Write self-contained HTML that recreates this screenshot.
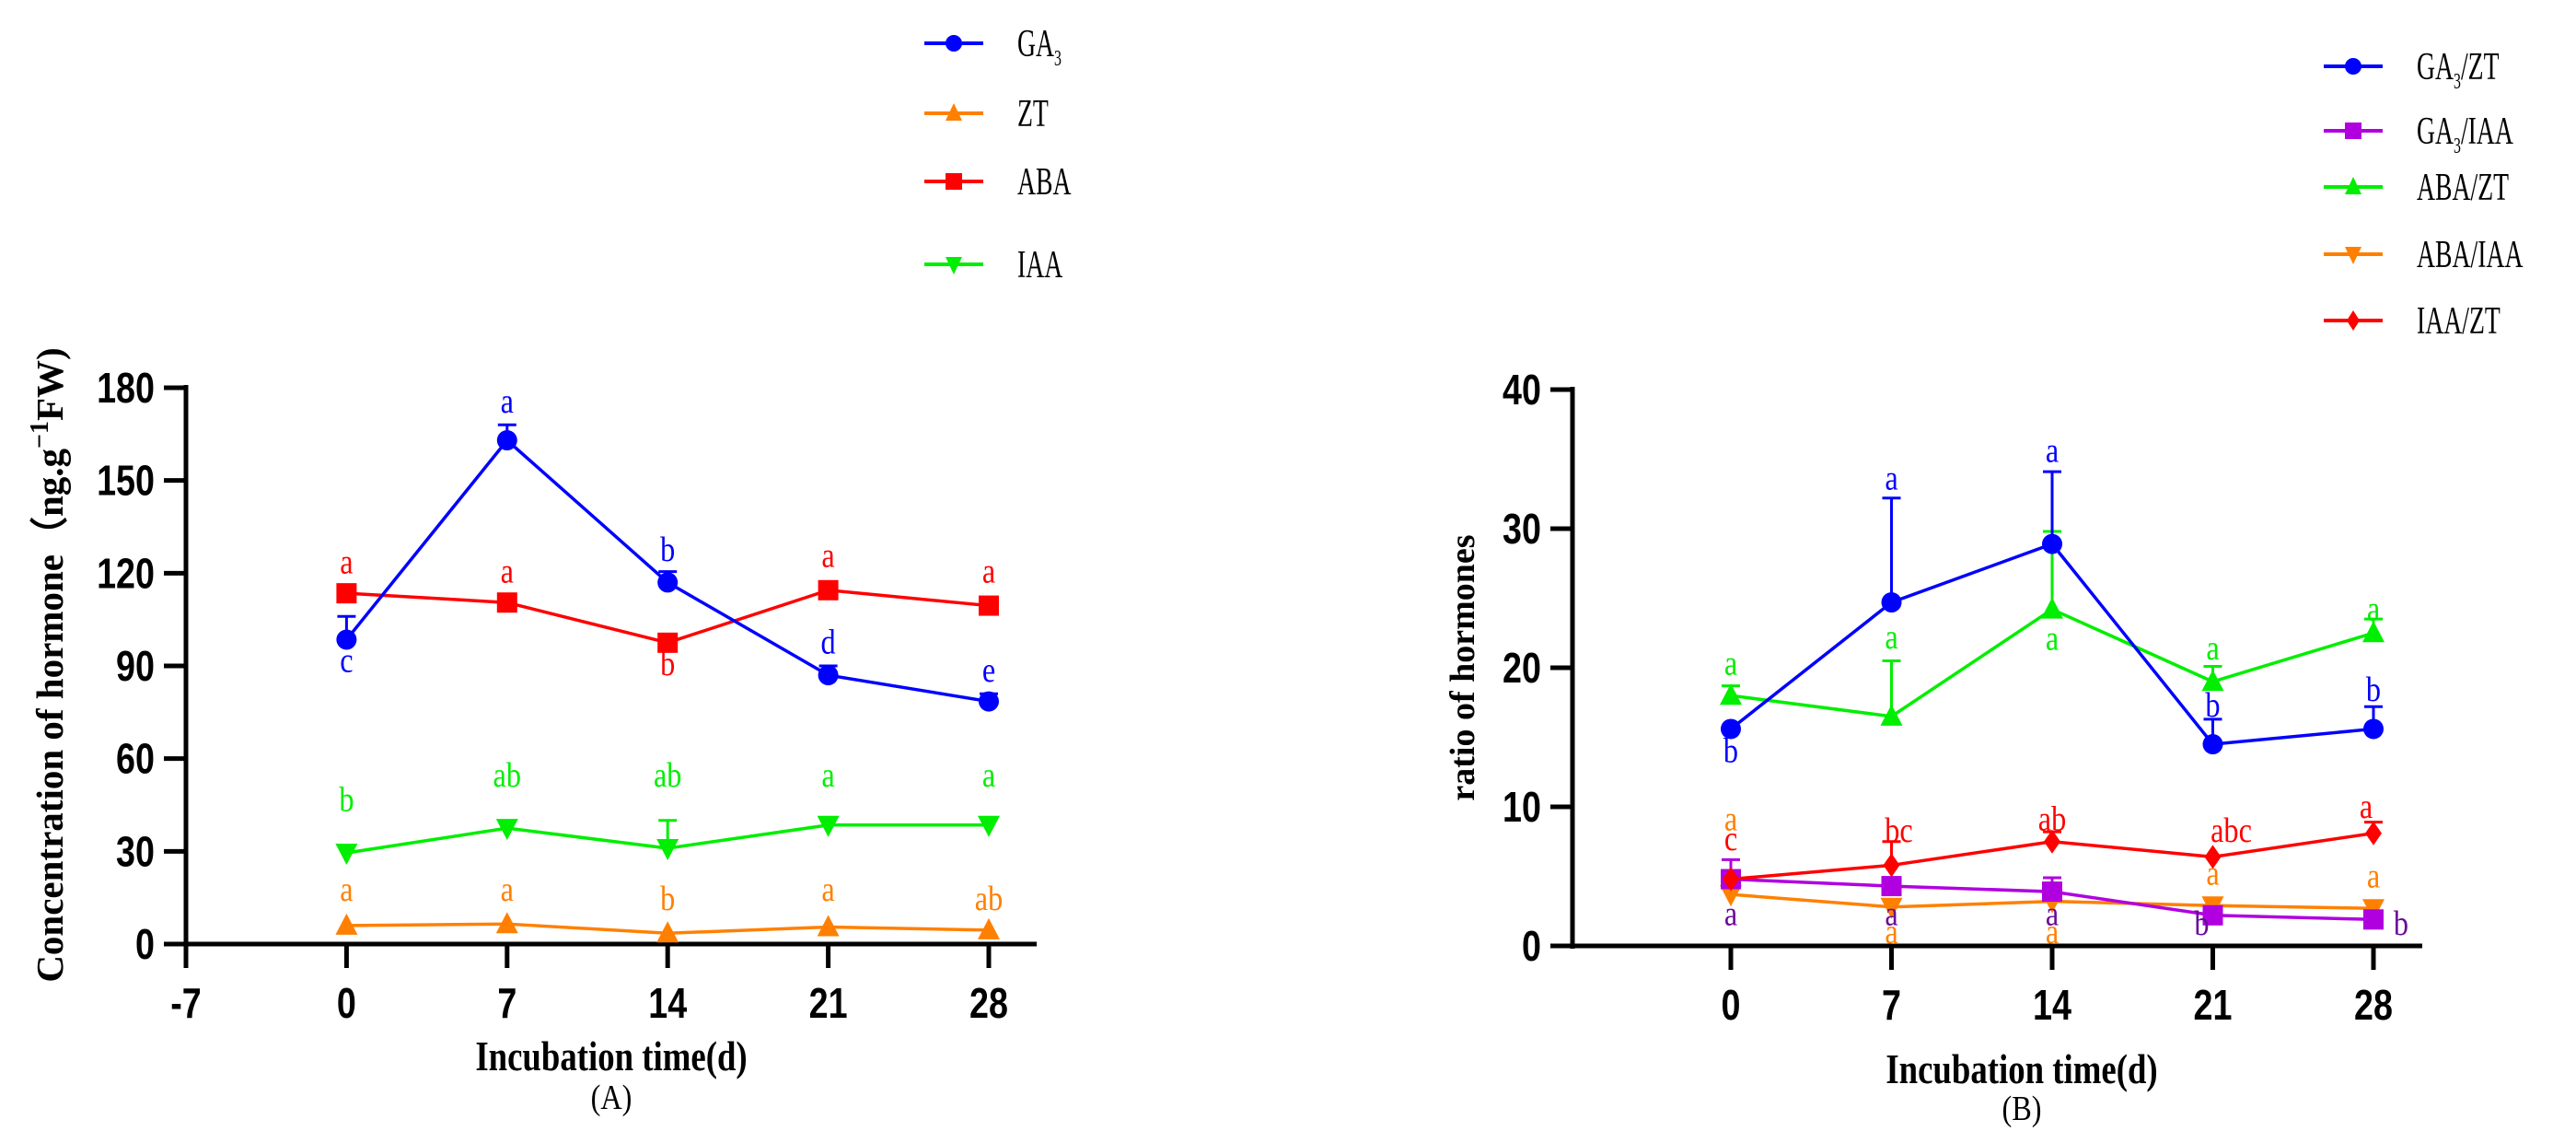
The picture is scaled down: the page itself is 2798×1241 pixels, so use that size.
<!DOCTYPE html>
<html><head><meta charset="utf-8"><style>
html,body{margin:0;padding:0;background:#fff}
svg{display:block}
text{font-family:"Liberation Serif",serif}
.tick{font-family:"Liberation Sans",sans-serif;font-weight:bold;font-size:46px}
</style></head><body>
<svg id="c" width="2798" height="1241" viewBox="0 0 2798 1241" xmlns="http://www.w3.org/2000/svg"></svg>
<script>
// ---------- data ----------
const days = [0, 7, 14, 21, 28];
// Chart A
const gaVals = [98.5, 163, 117, 87, 78.5];
const gaErr = [106, 168, 120.5, 90, 81];
const gaLetters = ['c','a','b','d','e'];
const gaLetterY = [88, 172, 124, 94, 85];
const abaVals = [113.5, 110.5, 97.5, 114.5, 109.5];
const abaLetters = ['a','a','b','a','a'];
const abaLetterY = [120, 117, 87, 122, 117];
const iaaVals = [29.5, 37.5, 31, 38.5, 38.5];
const iaaErr = [null, null, 40, null, null];
const iaaLetters = ['b','ab','ab','a','a'];
const iaaLetterY = [43, 51, 51, 51, 51];
const ztVals = [6, 6.5, 3.5, 5.5, 4.5];
const ztLetters = ['a','a','b','a','ab'];
const ztLetterY = [14, 14, 11, 14, 11];
const ticksA_y = [0, 30, 60, 90, 120, 150, 180];
const ticksA_x = [-7, 0, 7, 14, 21, 28];
// Chart B
const gzVals = [15.6, 24.7, 28.9, 14.5, 15.6];
const gzErr = [null, 32.2, 34.1, 16.3, 17.2];
const gzLetters = ['b','a','a','b','b'];
const gzLetterY = [13.2, 32.8, 34.8, 16.5, 17.6];
const azVals = [18, 16.5, 24.2, 19, 22.5];
const azErr = [18.7, 20.5, 29.8, 20.1, 23.5];
const azLetters = ['a','a','a','a','a'];
const azLetterY = [19.5, 21.4, 21.3, 20.6, 23.4];
const izVals = [4.8, 5.8, 7.5, 6.4, 8.1];
const izErr = [null, 7.5, 8.2, null, 8.9];
const izLetters = ['c','bc','ab','abc','a'];
const izLetterY = [6.9, 7.5, 8.3, 7.5, 9.2];
const giVals = [4.8, 4.3, 3.9, 2.2, 1.9];
const giErr = [6.2, null, 4.9, null, null];
const giLetters = ['a','a','a','b','b'];
const giLetterY = [1.5, 1.5, 1.5, 0.8, 0.8];
const aiVals = [3.7, 2.8, 3.2, 2.9, 2.7];
const aiLetters = ['a','a','a','a','a'];
const aiLetterY = [8.3, 0.2, 0.2, 4.4, 4.2];
const ticksB_y = [0, 10, 20, 30, 40];
const ticksB_x = [0, 7, 14, 21, 28];

// ---------- helpers ----------
const NS = 'http://www.w3.org/2000/svg';
const svg = document.getElementById('c');
function mk(tag, attrs, parent) {
  const e = document.createElementNS(NS, tag);
  for (const k in attrs) e.setAttribute(k, attrs[k]);
  (parent || svg).appendChild(e);
  return e;
}
function marker(g, shape, x, y, color) {
  let m;
  if (shape === 'circle') m = mk('circle', {cx: x, cy: y, r: 11, fill: color}, g);
  else if (shape === 'square') m = mk('rect', {x: x - 11, y: y - 11, width: 22, height: 22, fill: color}, g);
  else if (shape === 'up') m = mk('polygon', {points: `${x},${y-13} ${x-12},${y+10} ${x+12},${y+10}`, fill: color}, g);
  else if (shape === 'down') m = mk('polygon', {points: `${x},${y+13} ${x-12},${y-10} ${x+12},${y-10}`, fill: color}, g);
  else m = mk('polygon', {points: `${x},${y-13} ${x-9},${y} ${x},${y+13} ${x+9},${y}`, fill: color}, g);
  
  
}
function drawChart(cfg) {
  const X = v => cfg.x0 + (v - cfg.xmin) * (cfg.x1 - cfg.x0) / (cfg.xmax - cfg.xmin);
  const Y = v => cfg.y0 - v * (cfg.y0 - cfg.y1) / cfg.ymax;
  const ax = mk('g', {});
  
  
  mk('line', {x1: cfg.x0, y1: cfg.y1 - 3, x2: cfg.x0, y2: cfg.y0 + 3, stroke: '#000', 'stroke-width': 5}, ax);
  mk('line', {x1: cfg.x0 - 3, y1: cfg.y0, x2: cfg.xend, y2: cfg.y0, stroke: '#000', 'stroke-width': 5}, ax);
  cfg.yt.forEach(t => {
    mk('line', {x1: cfg.x0 - 24, y1: Y(t), x2: cfg.x0, y2: Y(t), stroke: '#000', 'stroke-width': 5}, ax);
    const tx = mk('text', {x: 0, y: 0, transform: `translate(${cfg.x0 - 34},${Y(t) + 16}) scale(0.82,1)`, 'text-anchor': 'end', class: 'tick'}, ax);
    tx.textContent = t;
    
    
  });
  cfg.xt.forEach(t => {
    mk('line', {x1: X(t), y1: cfg.y0, x2: X(t), y2: cfg.y0 + 26, stroke: '#000', 'stroke-width': 5}, ax);
    const tx = mk('text', {x: 0, y: 0, transform: `translate(${X(t)},${cfg.y0 + 80}) scale(0.82,1)`, 'text-anchor': 'middle', class: 'tick'}, ax);
    tx.textContent = t;
    
    
  });
  cfg.series.forEach(s => {
    const g = mk('g', {});
    
    
    const pts = s.vals.map((v, i) => X(days[i]) + ',' + Y(v)).join(' ');
    mk('polyline', {points: pts, fill: 'none', stroke: s.color, 'stroke-width': 3.5}, g);
    s.vals.forEach((v, i) => {
      if (s.err && s.err[i] != null) {
        mk('line', {x1: X(days[i]), y1: Y(v), x2: X(days[i]), y2: Y(s.err[i]), stroke: s.color, 'stroke-width': 3}, g);
        mk('line', {x1: X(days[i]) - 10, y1: Y(s.err[i]), x2: X(days[i]) + 10, y2: Y(s.err[i]), stroke: s.color, 'stroke-width': 3}, g);
      }
      marker(g, s.shape, X(days[i]), Y(v), s.color);
      const lt = mk('text', {x: 0, y: 0, transform: `translate(${X(days[i]) + (s.ldx ? s.ldx[i] : 0)},${Y(s.ly[i])}) scale(0.85,1)`, 'text-anchor': 'middle', 'font-size': 38, fill: s.lcolor || s.color}, g);
      lt.textContent = s.letters[i];
      
      
    });
  });
}

drawChart({name: 'chart-a', x0: 202, x1: 1074, xmin: -7, xmax: 28, xend: 1126, y0: 1025, y1: 421, ymax: 180,
  yt: ticksA_y, xt: ticksA_x,
  series: [
    {name: 'zt', vals: ztVals, color: '#ff8000', shape: 'up', letters: ztLetters, ly: ztLetterY},
    {name: 'iaa', vals: iaaVals, err: iaaErr, color: '#00ee00', shape: 'down', letters: iaaLetters, ly: iaaLetterY},
    {name: 'aba', vals: abaVals, color: '#ff0000', shape: 'square', letters: abaLetters, ly: abaLetterY},
    {name: 'ga3', vals: gaVals, err: gaErr, color: '#0000ff', shape: 'circle', letters: gaLetters, ly: gaLetterY}
  ]});
drawChart({name: 'chart-b', x0: 1708, x1: 2578, xmin: -6.9, xmax: 28, xend: 2631, y0: 1027, y1: 423, ymax: 40,
  yt: ticksB_y, xt: ticksB_x,
  series: [
    {name: 'aba-iaa', vals: aiVals, color: '#ff8000', shape: 'down', letters: aiLetters, ly: aiLetterY},
    {name: 'ga3-iaa', vals: giVals, err: giErr, color: '#b000e0', lcolor: '#6a0a9a', shape: 'square', letters: giLetters, ly: giLetterY, ldx: [0, 0, 0, -12, 30]},
    {name: 'iaa-zt', vals: izVals, err: izErr, color: '#ff0000', shape: 'diamond', letters: izLetters, ly: izLetterY, ldx: [0, 8, 0, 20, -8]},
    {name: 'aba-zt', vals: azVals, err: azErr, color: '#00ee00', shape: 'up', letters: azLetters, ly: azLetterY},
    {name: 'ga3-zt', vals: gzVals, err: gzErr, color: '#0000ff', shape: 'circle', letters: gzLetters, ly: gzLetterY}
  ]});

// titles
function txt(str, attrs, name) {
  const t = mk('text', attrs);
  t.innerHTML = str;
  
  
  return t;
}
txt('Concentration of hormone（ng.g<tspan dy="-16" font-size="28">−1</tspan><tspan dy="16">FW)</tspan>', {x: 0, y: 0, transform: 'translate(68,722) rotate(-90)', 'text-anchor': 'middle', 'font-size': 41, 'font-weight': 'bold'}, 'y-axis-title-a');
txt('ratio of hormones', {x: 0, y: 0, transform: 'translate(1601,725) rotate(-90)', 'text-anchor': 'middle', 'font-size': 38, 'font-weight': 'bold'}, 'y-axis-title-b');
txt('Incubation time(d)', {x: 0, y: 0, transform: 'translate(664,1162) scale(0.8,1)', 'text-anchor': 'middle', 'font-size': 46, 'font-weight': 'bold'}, 'x-axis-title-a');
txt('(A)', {x: 0, y: 0, transform: 'translate(664,1204) scale(0.85,1)', 'text-anchor': 'middle', 'font-size': 38}, 'panel-label-a');
txt('Incubation time(d)', {x: 0, y: 0, transform: 'translate(2196,1176) scale(0.8,1)', 'text-anchor': 'middle', 'font-size': 46, 'font-weight': 'bold'}, 'x-axis-title-b');
txt('(B)', {x: 0, y: 0, transform: 'translate(2196,1216) scale(0.85,1)', 'text-anchor': 'middle', 'font-size': 38}, 'panel-label-b');

// legends
const legA = [['GA<tspan dy="10" font-size="24">3</tspan>', '#0000ff', 'circle', 47], ['ZT', '#ff8000', 'up', 123], ['ABA', '#ff0000', 'square', 197], ['IAA', '#00ee00', 'down', 287]];
const legB = [['GA<tspan dy="10" font-size="24">3</tspan><tspan dy="-10">/ZT</tspan>', '#0000ff', 'circle', 72], ['GA<tspan dy="10" font-size="24">3</tspan><tspan dy="-10">/IAA</tspan>', '#b000e0', 'square', 142], ['ABA/ZT', '#00ee00', 'up', 203], ['ABA/IAA', '#ff8000', 'down', 276], ['IAA/ZT', '#ff0000', 'diamond', 348]];
function legend(items, mx, tx) {
  items.forEach(it => {
    const g = mk('g', {});
    
    
    mk('line', {x1: mx - 32, y1: it[3], x2: mx + 32, y2: it[3], stroke: it[1], 'stroke-width': 4}, g);
    const s = it[2];
    const m = s === 'circle' ? mk('circle', {cx: mx, cy: it[3], r: 9, fill: it[1]}, g)
      : s === 'square' ? mk('rect', {x: mx - 9, y: it[3] - 9, width: 18, height: 18, fill: it[1]}, g)
      : s === 'up' ? mk('polygon', {points: `${mx},${it[3]-11} ${mx-9},${it[3]+8} ${mx+9},${it[3]+8}`, fill: it[1]}, g)
      : s === 'down' ? mk('polygon', {points: `${mx},${it[3]+11} ${mx-9},${it[3]-8} ${mx+9},${it[3]-8}`, fill: it[1]}, g)
      : mk('polygon', {points: `${mx},${it[3]-11} ${mx-7},${it[3]} ${mx},${it[3]+11} ${mx+7},${it[3]}`, fill: it[1]}, g);
    const t = mk('text', {x: 0, y: 0, transform: `translate(${tx},${it[3] + 14}) scale(0.66,1)`, 'font-size': 42}, g);
    t.innerHTML = it[0];
  });
}
legend(legA, 1036, 1105);
legend(legB, 2556, 2625);
</script>
</body></html>
